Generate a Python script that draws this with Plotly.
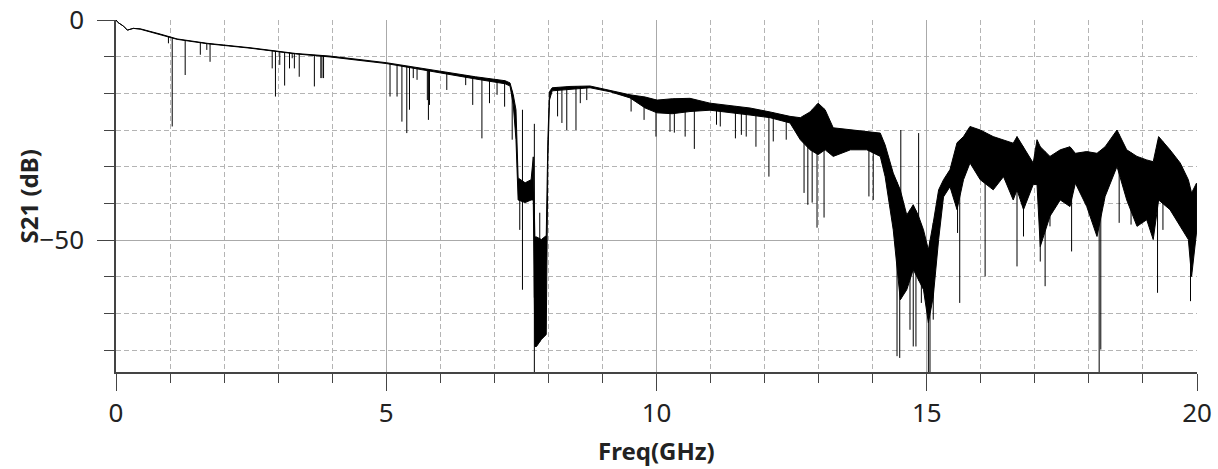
import numpy as np
import plotly.graph_objects as go

# ---- data (frequency in GHz, S21 in dB) ----
freq_ghz = [0.00, 0.04, 0.14, 0.21, 0.32, 0.45, 0.82, 1.13, 1.69, 2.48, 3.32, 3.96,
            5.00, 5.81, 6.65, 7.20, 7.29, 7.35, 7.40, 7.44, 7.57, 7.68, 7.72, 7.75,
            7.78, 7.87, 7.96, 7.99, 8.02, 8.07, 8.40, 8.77, 9.14, 9.51, 9.79, 10.01,
            10.29, 10.62, 10.99, 11.36, 11.73, 12.10, 12.47, 12.66, 12.84, 12.99, 13.12,
            13.27, 13.59, 13.89, 14.14, 14.23, 14.38, 14.51, 14.63, 14.75, 14.84, 14.94,
            15.03, 15.12, 15.22, 15.31, 15.43, 15.56, 15.68, 15.80, 15.99, 16.23, 16.42,
            16.60, 16.67, 16.79, 16.97, 17.04, 17.10, 17.28, 17.47, 17.65, 17.75, 17.96,
            18.15, 18.30, 18.52, 18.70, 18.89, 19.07, 19.19, 19.29, 19.50, 19.69, 19.84,
            19.90, 19.99]
s21_upper_db = [0.0, -0.6, -1.4, -2.3, -1.9, -2.0, -3.2, -4.3, -5.3, -6.3, -7.6, -8.2,
                -9.7, -11.3, -12.9, -13.8, -14.3, -17.0, -20.4, -35.9, -37.0, -36.3, -31.1, -49.3,
                -49.3, -49.9, -49.0, -27.2, -16.3, -15.4, -15.1, -15.0, -16.0, -17.0, -17.5, -18.2,
                -17.9, -17.8, -18.9, -19.5, -20.0, -20.9, -21.9, -22.2, -20.9, -18.9, -20.4,
                -24.5, -25.0, -25.4, -25.7, -28.4, -34.8, -38.6, -44.3, -42.0, -44.3, -47.7,
                -52.2, -46.1, -38.6, -36.3, -34.0, -27.9, -26.5, -24.2, -25.0, -26.5, -27.2,
                -28.0, -26.5, -28.8, -32.5, -27.2, -28.8, -31.0, -29.5, -28.8, -30.3, -29.9,
                -30.3, -28.8, -25.0, -29.5, -31.0, -31.8, -32.2, -26.5, -29.5, -32.5, -36.3,
                -39.3, -37.1]
s21_lower_db = [0.0, -0.6, -1.4, -2.3, -1.9, -2.1, -3.3, -4.4, -5.4, -6.4, -7.7, -8.4,
                -9.9, -11.6, -13.4, -14.5, -15.0, -19.3, -27.2, -40.9, -41.5, -40.9, -40.9, -74.2,
                -74.2, -72.6, -71.5, -31.8, -18.2, -16.1, -15.7, -15.4, -16.3, -17.7, -20.0, -21.1,
                -21.3, -20.8, -20.5, -21.1, -21.6, -22.2, -23.4, -27.2, -29.5, -30.6, -29.5,
                -31.0, -29.5, -29.5, -31.0, -35.6, -47.7, -63.6, -61.3, -56.7, -59.0, -61.3,
                -68.8, -62.9, -49.9, -40.2, -37.9, -43.1, -36.3, -32.5, -36.3, -38.6, -35.6,
                -40.9, -38.6, -43.1, -37.4, -37.4, -51.5, -44.6, -40.9, -42.4, -37.1, -42.4,
                -49.2, -40.1, -33.3, -40.9, -46.9, -45.4, -49.9, -40.9, -43.1, -46.9, -49.9,
                -58.3, -48.4]

# narrow notches (frequency, minimum level)
notch_freq_ghz = [0.97, 1.04, 1.28, 1.56, 1.68, 1.74, 2.89, 2.95, 3.03, 3.12, 3.21, 3.26,
                  3.30, 3.39, 3.67, 3.79, 3.81, 3.84, 5.07, 5.20, 5.29, 5.38, 5.43, 5.50,
                  5.57, 5.76, 5.78, 5.80, 6.12, 6.47, 6.60, 6.77, 6.91, 7.05, 7.19, 7.33,
                  7.47, 7.52, 7.74, 8.17, 8.25, 8.34, 8.51, 8.59, 8.71, 9.53, 9.77, 9.99,
                  10.25, 10.33, 10.53, 10.70, 11.11, 11.18, 11.46, 11.57, 11.66, 11.84, 12.08,
                  12.16, 12.40, 12.73, 12.80, 12.88, 12.97, 13.10, 13.93, 14.01, 14.45, 14.50,
                  14.69, 14.75, 14.80, 14.90, 15.03, 15.06, 15.12, 15.57, 15.61, 16.08, 16.67,
                  16.79, 17.10, 17.19, 17.28, 17.68, 18.19, 18.22, 18.56, 18.78, 18.92, 19.16,
                  19.27, 19.37, 19.56, 19.88]
notch_depth_db = [-5.3, -24.2, -12.5, -7.9, -6.8, -9.5, -11.0, -17.4, -10.2, -14.9, -11.0, -8.7,
                  -11.0, -12.9, -15.1, -13.2, -13.2, -13.2, -17.4, -17.4, -23.1, -25.7, -20.4, -13.2,
                  -13.6, -18.2, -22.7, -19.3, -15.9, -14.8, -19.3, -26.9, -18.9, -17.0, -19.7, -27.2,
                  -47.7, -61.3, -80.0, -21.9, -23.4, -25.0, -25.0, -18.9, -18.2, -20.8, -22.7, -26.5,
                  -25.4, -25.6, -26.5, -29.3, -23.8, -24.2, -26.9, -26.1, -26.5, -28.8, -35.6,
                  -27.6, -27.2, -39.3, -42.0, -41.5, -47.2, -44.9, -40.1, -40.9, -76.4, -76.8,
                  -70.4, -74.2, -74.2, -64.3, -80.0, -80.0, -68.1, -48.4, -64.3, -58.3, -56.0,
                  -49.2, -54.9, -60.5, -46.9, -52.6, -80.0, -74.9, -46.1, -46.5, -38.6, -39.3,
                  -62.0, -47.7, -42.4, -63.9]

# narrow upward excursions (frequency, maximum level)
peak_freq_ghz = [7.52, 7.74, 7.84, 14.52, 14.85]
peak_level_db = [-20.4, -23.6, -43.8, -25.0, -25.7]

# ---- figure ----
fig = go.Figure()

fig.add_trace(go.Scatter(
    x=freq_ghz + freq_ghz[::-1],
    y=s21_upper_db + s21_lower_db[::-1],
    mode="lines", fill="toself", fillcolor="black",
    line=dict(color="black", width=1), hoverinfo="skip", showlegend=False))

notch_start = np.interp(notch_freq_ghz, freq_ghz, s21_upper_db)
nx, ny = [], []
for f, s, d in zip(notch_freq_ghz, notch_start, notch_depth_db):
    nx += [f, f, None]
    ny += [float(s), d, None]
fig.add_trace(go.Scatter(x=nx, y=ny, mode="lines", line=dict(color="black", width=1),
                         hoverinfo="skip", showlegend=False))

peak_start = np.interp(peak_freq_ghz, freq_ghz, s21_lower_db)
px, py = [], []
for f, s, d in zip(peak_freq_ghz, peak_start, peak_level_db):
    px += [f, f, None]
    py += [float(s), d, None]
fig.add_trace(go.Scatter(x=px, y=py, mode="lines", line=dict(color="black", width=1),
                         hoverinfo="skip", showlegend=False))

axis_col = "#444444"
grid_major = "#aaaaaa"
grid_minor = "#b4b4b4"
tickfont = dict(family="Noto Sans", size=26, color="#222222")
titlefont = dict(family="Noto Sans", size=24, color="#222222", weight="bold")

fig.update_layout(
    width=1218, height=469,
    margin=dict(l=116, r=21, t=20, b=97),
    paper_bgcolor="white", plot_bgcolor="white",
    font=dict(family="Noto Sans", color="#222222"),
    xaxis=dict(
        range=[0, 20], tick0=0, dtick=5, ticks="outside", ticklen=17, tickwidth=1,
        tickcolor=axis_col, showline=True, linecolor=axis_col, linewidth=1.5,
        showgrid=True, gridcolor=grid_major, gridwidth=1, zeroline=False,
        tickfont=tickfont, automargin=False,
        minor=dict(dtick=1, ticks="outside", ticklen=9, tickwidth=1, tickcolor=axis_col,
                   showgrid=True, gridcolor=grid_minor, gridwidth=1, griddash="5px,3px"),
    ),
    yaxis=dict(
        range=[-80, 0], tick0=0, dtick=50, ticks="outside", ticklen=17, tickwidth=1,
        tickcolor=axis_col, showline=True, linecolor=axis_col, linewidth=1.5,
        showgrid=True, gridcolor=grid_major, gridwidth=1, zeroline=False,
        tickfont=tickfont, automargin=False, ticklabelstandoff=8,
        minor=dict(dtick=50 / 6, ticks="outside", ticklen=10, tickwidth=1, tickcolor=axis_col,
                   showgrid=True, gridcolor=grid_minor, gridwidth=1, griddash="5px,3px"),
    ),
    annotations=[
        dict(text="Freq(GHz)", xref="paper", yref="paper", x=0.5, y=-0.224,
             xanchor="center", yanchor="middle", showarrow=False, font=titlefont),
        dict(text="S21 (dB)", xref="paper", yref="paper", x=-0.081, y=0.5,
             xanchor="center", yanchor="middle", showarrow=False, textangle=-90,
             font=titlefont),
    ],
)

fig.write_html(
    "out.html",
    config={"displayModeBar": False},
    post_script="document.body.style.margin='0px';document.body.style.overflow='hidden';",
)
